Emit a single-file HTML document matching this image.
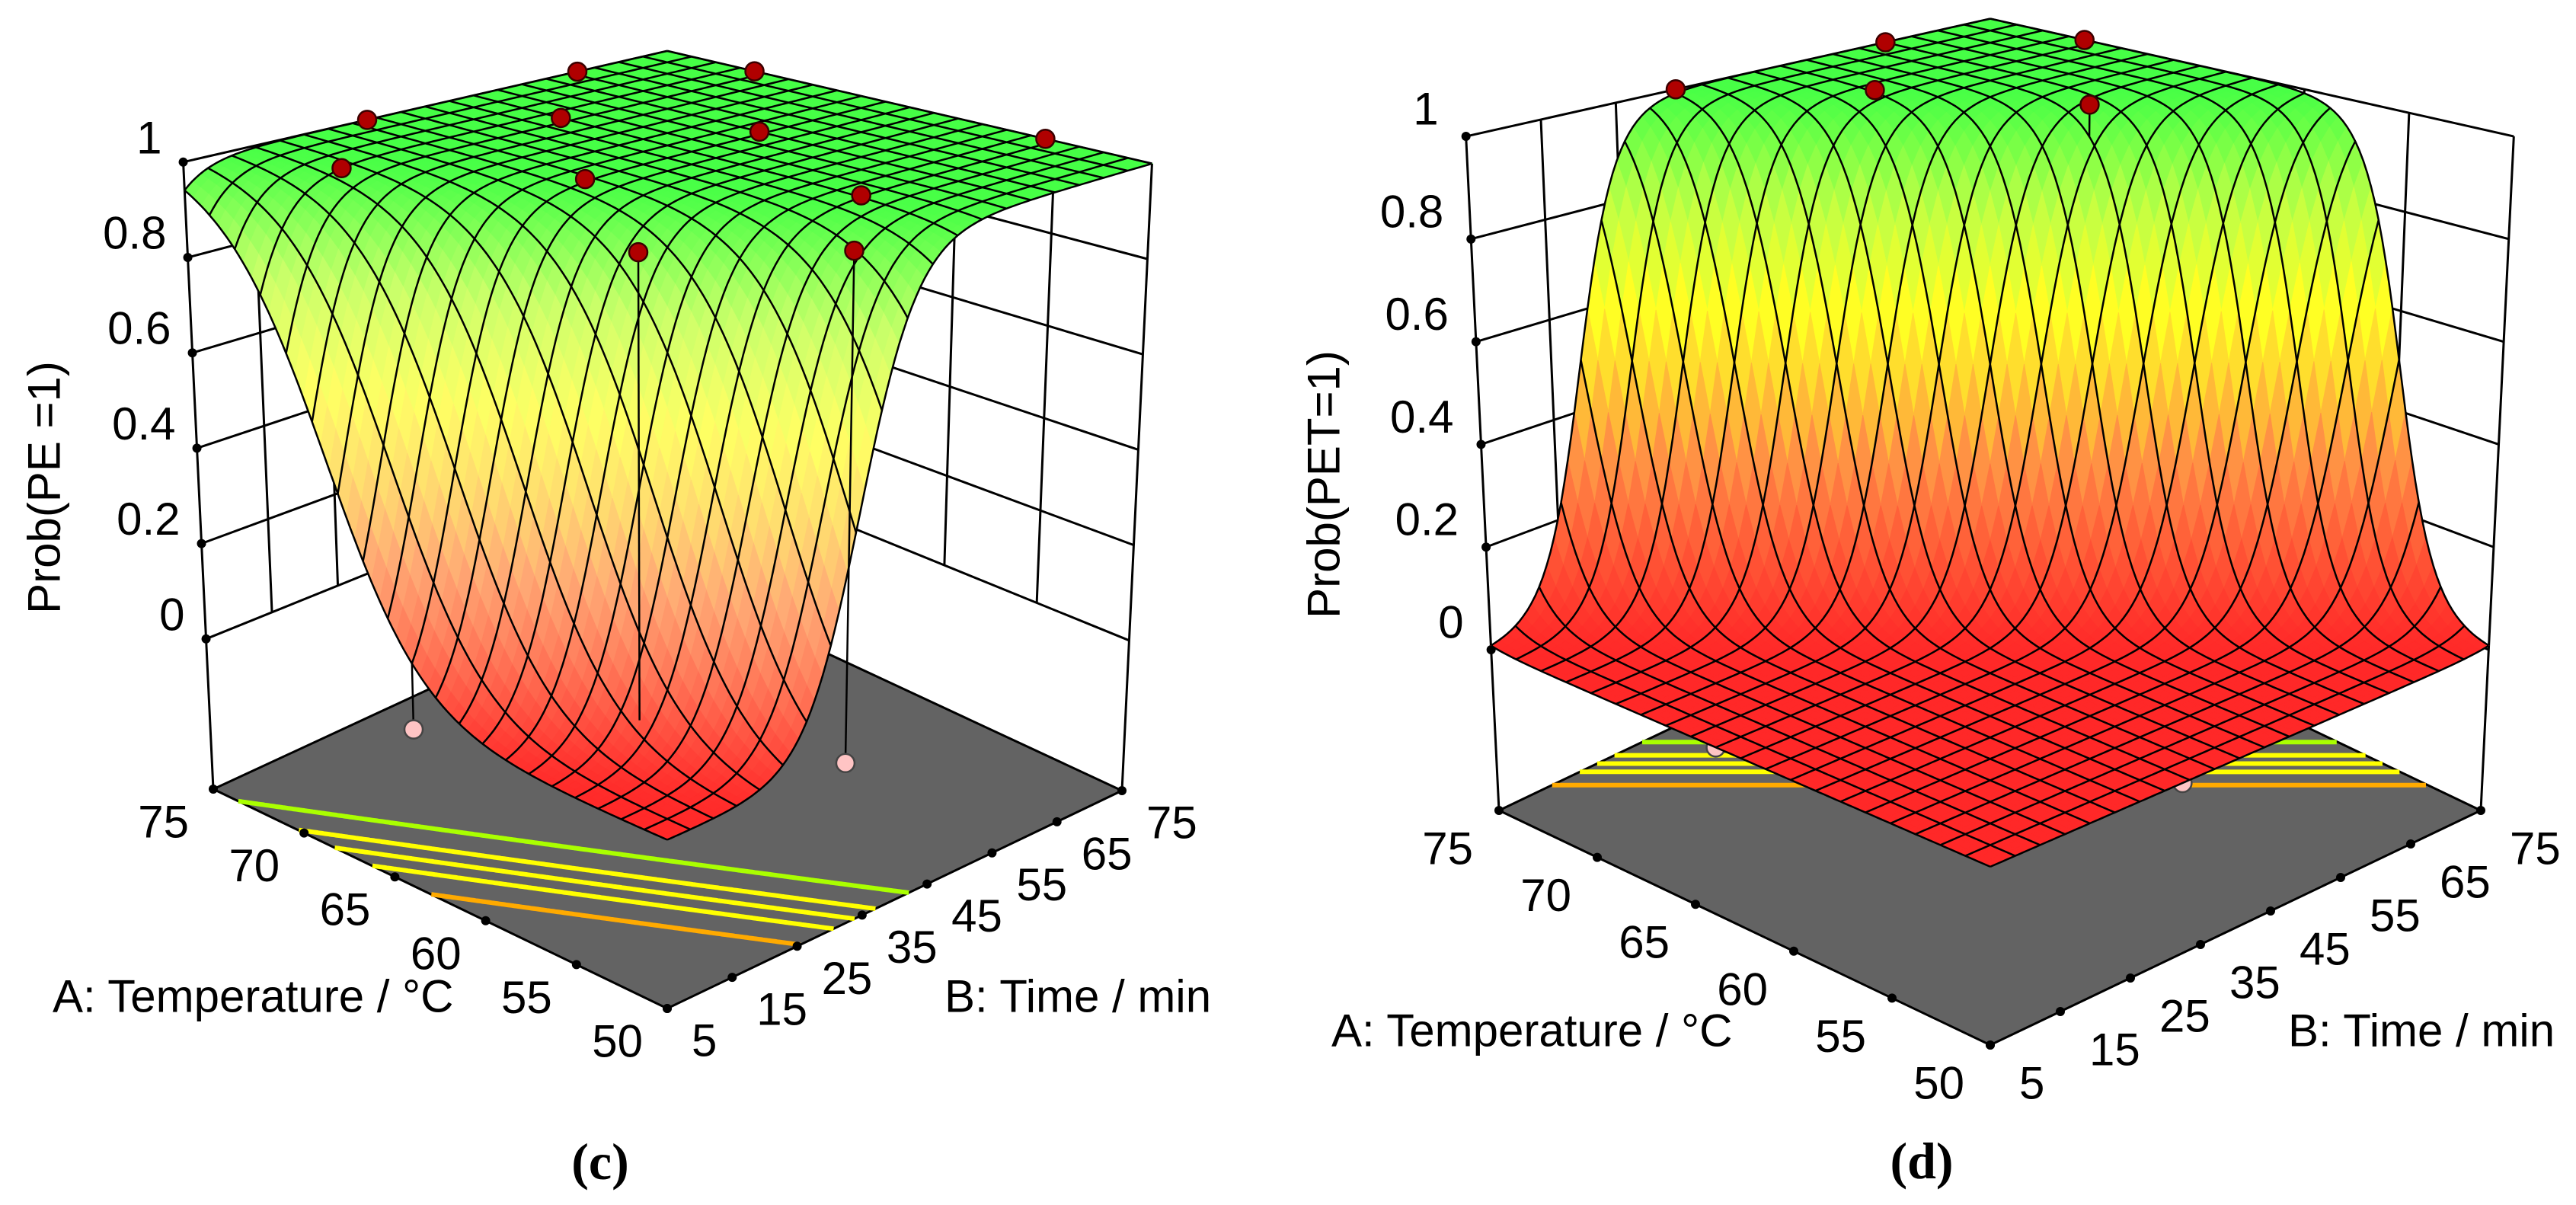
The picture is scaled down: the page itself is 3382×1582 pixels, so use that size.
<!DOCTYPE html>
<html><head><meta charset="utf-8"><title>Probability response surfaces</title>
<style>
html,body{margin:0;padding:0;background:#fff;}
svg{display:block;}
text{font-family:"Liberation Sans","DejaVu Sans",sans-serif;fill:#000;}
.cap{font-family:"Liberation Serif",serif;font-weight:bold;}
</style></head>
<body>
<svg id="fig" xmlns="http://www.w3.org/2000/svg" width="3382" height="1582" viewBox="0 0 3382 1582"></svg>
<script>
// ---- data ----
const ticksA = [50, 55, 60, 65, 70, 75];
const ticksB = [5, 15, 25, 35, 45, 55, 65, 75];
const ticksZ = [0, 0.2, 0.4, 0.6, 0.8, 1];
const coefPE = [-29.6, 0.414, 0.263];     // logit = c0 + c1*T + c2*t
const coefPET = [-78.51, 0.96, 0.3429];
const contourLevels = [0.1, 0.3, 0.5, 0.7, 0.9];
const contourColors = ['#ffaa00', '#ffff00', '#ffff00', '#ffff00', '#aaff00'];
const ptsTempC = [75, 70.5, 75, 70.5, 64, 55.5, 70.75, 63.75, 55, 55.5, 50, 63.75, 50];
const ptsTimeC = [62, 75, 31.6, 47, 57.5, 75, 16, 31.6, 47, 16.2, 32, 5, 32];
const ptsObsC  = [1, 1, 1, 1, 1, 1, 1, 1, 1, 1, 1, 0, 0];
const ptsTempD = [75, 75, 70.5, 70.5, 64, 63.75, 50];
const ptsTimeD = [33, 61, 75, 47, 57.5, 5, 32];
const ptsObsD  = [1, 1, 1, 1, 1, 0, 0];

const NS = 'http://www.w3.org/2000/svg';
const svg = document.getElementById('fig');
function el(tag, parent) { const e = document.createElementNS(NS, tag); parent.appendChild(e); return e; }

function makePanel(cfg) {
  const g = el('g', svg);
  
  
  const C = cfg.corners; // F, L, R, B
  function P(a, b, z) {
    const w = [(1 - a) * (1 - b), a * (1 - b), (1 - a) * b, a * b];
    let x = 0, y = 0;
    for (let i = 0; i < 4; i++) {
      x += w[i] * (C[i][0] + C[i][2] * (cfg.gap + z));
      y += w[i] * (C[i][1] + C[i][3] * (cfg.gap + z));
    }
    return [x, y];
  }
  const aOf = T => (T - 50) / 25;
  const bOf = t => (t - 5) / 70;
  const coef = cfg.coef;
  const pred = (T, t) => 1 / (1 + Math.exp(-(coef[0] + coef[1] * T + coef[2] * t)));
  const predAB = (a, b) => pred(50 + 25 * a, 5 + 70 * b);
  const pstr = arr => arr.map(p => p[0].toFixed(1) + ',' + p[1].toFixed(1)).join(' ');

  const walls = el('g', g);
  
  
  function line(parent, p, q, w, name) {
    const l = el('line', parent);
    l.setAttribute('x1', p[0]); l.setAttribute('y1', p[1]);
    l.setAttribute('x2', q[0]); l.setAttribute('y2', q[1]);
    l.setAttribute('stroke', '#000'); l.setAttribute('stroke-width', w);
    
    
    return l;
  }
  ticksZ.forEach(z => {
    line(walls, P(1, 0, z), P(1, 1, z), 3, 'wall-gridline-z');
    line(walls, P(0, 1, z), P(1, 1, z), 3, 'wall-gridline-z');
  });
  ticksB.forEach(t => { const b = bOf(t); if (b > 0 && b < 1) line(walls, P(1, b, 0), P(1, b, 1), 3, 'wall-gridline-b'); });
  ticksA.forEach(T => { const a = aOf(T); if (a > 0 && a < 1) line(walls, P(a, 1, 0), P(a, 1, 1), 3, 'wall-gridline-a'); });
  line(walls, P(1, 1, -cfg.gap), P(1, 1, 1), 3, 'back-edge');
  line(walls, P(1, 0, -cfg.gap), P(1, 0, 1), 3, 'left-edge');
  line(walls, P(0, 1, -cfg.gap), P(0, 1, 1), 3, 'right-edge');

  const floor = el('polygon', g);
  floor.setAttribute('points', pstr([P(0, 0, -cfg.gap), P(1, 0, -cfg.gap), P(1, 1, -cfg.gap), P(0, 1, -cfg.gap)]));
  floor.setAttribute('fill', '#636363');
  floor.setAttribute('stroke', '#000'); floor.setAttribute('stroke-width', 3);
  
  

  contourLevels.forEach((p, k) => {
    const lg = Math.log(p / (1 - p));
    const pts = [];
    for (let s = 0; s <= 400; s++) {
      const a = s / 400, T = 50 + 25 * a;
      const t = (lg - coef[0] - coef[1] * T) / coef[2];
      const b = bOf(t);
      if (b >= 0 && b <= 1) pts.push(P(a, b, -cfg.gap));
    }
    if (pts.length > 1) {
      const pl = el('polyline', g);
      pl.setAttribute('points', pstr(pts));
      pl.setAttribute('fill', 'none');
      pl.setAttribute('stroke', contourColors[k]);
      pl.setAttribute('stroke-width', 6);
      
      
    }
  });

  const FS = 60;
  ticksA.forEach(T => {
    const q = P(aOf(T), 0, -cfg.gap);
    const c = el('circle', g);
    c.setAttribute('cx', q[0]); c.setAttribute('cy', q[1]); c.setAttribute('r', 6);
    
    
    const tx = el('text', g);
    tx.setAttribute('x', q[0] + cfg.aOff[0]); tx.setAttribute('y', q[1] + cfg.aOff[1]);
    tx.setAttribute('text-anchor', 'end'); tx.setAttribute('dominant-baseline', 'central');
    tx.setAttribute('font-size', FS);
    tx.textContent = T;
    
    
  });
  ticksB.forEach(t => {
    const q = P(0, bOf(t), -cfg.gap);
    const c = el('circle', g);
    c.setAttribute('cx', q[0]); c.setAttribute('cy', q[1]); c.setAttribute('r', 6);
    
    
    const tx = el('text', g);
    tx.setAttribute('x', q[0] + cfg.bOff[0]); tx.setAttribute('y', q[1] + cfg.bOff[1]);
    tx.setAttribute('text-anchor', 'start'); tx.setAttribute('dominant-baseline', 'central');
    tx.setAttribute('font-size', FS);
    tx.textContent = t;
    
    
  });
  ticksZ.forEach(z => {
    const q = P(1, 0, z);
    const c = el('circle', g);
    c.setAttribute('cx', q[0]); c.setAttribute('cy', q[1]); c.setAttribute('r', 6);
    
    
    const tx = el('text', g);
    tx.setAttribute('x', q[0] + cfg.zOff[0]); tx.setAttribute('y', q[1] + cfg.zOff[1]);
    tx.setAttribute('text-anchor', 'end'); tx.setAttribute('dominant-baseline', 'central');
    tx.setAttribute('font-size', FS);
    tx.textContent = String(z);
    
    
  });

  function drawPoint(i, T, t, obs) {
    const a = aOf(T), b = bOf(t), pz = pred(T, t);
    const top = P(a, b, obs), pp = P(a, b, pz);
    line(g, top, pp, 2.5, 'residual-line');
    const c = el('circle', g);
    c.setAttribute('cx', top[0]); c.setAttribute('cy', top[1]); c.setAttribute('r', 12);
    c.setAttribute('fill', obs >= 0.5 ? '#b00000' : '#ffc4c4');
    c.setAttribute('stroke', obs >= 0.5 ? '#3a0000' : '#444');
    c.setAttribute('stroke-width', 2.5);
    
    
  }
  const T_ = cfg.ptsT, t_ = cfg.ptsTime, o_ = cfg.ptsObs;
  for (let i = 0; i < T_.length; i++) if (o_[i] < pred(T_[i], t_[i])) drawPoint(i, T_[i], t_[i], o_[i]);

  const surf = el('g', g);
  
  
  const stops = [[0, 255, 40, 40], [0.3, 255, 140, 70], [0.45, 255, 205, 50], [0.6, 255, 255, 36], [0.8, 190, 255, 70], [1, 70, 255, 70]];
  function color(z) {
    z = Math.max(0, Math.min(1, z));
    let k = 0; while (k < stops.length - 2 && z > stops[k + 1][0]) k++;
    const s0 = stops[k], s1 = stops[k + 1], f = (z - s0[0]) / (s1[0] - s0[0]);
    let c = [1, 2, 3].map(j => s0[j] + (s1[j] - s0[j]) * f);
    const m = cfg.whiten * 4 * z * (1 - z);
    c = c.map(v => Math.round(v + (255 - v) * m));
    return 'rgb(' + c.join(',') + ')';
  }
  const N = 60;
  for (let i = N - 1; i >= 0; i--) for (let j = N - 1; j >= 0; j--) {
    const a0 = i / N, a1 = (i + 1) / N, b0 = j / N, b1 = (j + 1) / N;
    const zs = [predAB(a0, b0), predAB(a1, b0), predAB(a1, b1), predAB(a0, b1)];
    const poly = el('polygon', surf);
    poly.setAttribute('points', pstr([P(a0, b0, zs[0]), P(a1, b0, zs[1]), P(a1, b1, zs[2]), P(a0, b1, zs[3])]));
    const col = color((zs[0] + zs[1] + zs[2] + zs[3]) / 4);
    poly.setAttribute('fill', col); poly.setAttribute('stroke', col); poly.setAttribute('stroke-width', 1);
    
    
  }
  for (let k = 0; k <= 20; k++) {
    const u = k / 20, p1 = [], p2 = [];
    for (let s = 0; s <= 120; s++) { const v = s / 120; p1.push(P(u, v, predAB(u, v))); p2.push(P(v, u, predAB(v, u))); }
    [p1, p2].forEach(pp => {
      const pl = el('polyline', surf);
      pl.setAttribute('points', pstr(pp));
      pl.setAttribute('fill', 'none'); pl.setAttribute('stroke', '#000'); pl.setAttribute('stroke-width', 2.5);
      
      
    });
  }
  for (let i = 0; i < T_.length; i++) if (!(o_[i] < pred(T_[i], t_[i]))) drawPoint(i, T_[i], t_[i], o_[i]);

  const zt = el('text', g);
  zt.setAttribute('transform', 'translate(' + cfg.zTitle[0] + ',' + cfg.zTitle[1] + ') rotate(-90)');
  zt.setAttribute('text-anchor', 'middle'); zt.setAttribute('dominant-baseline', 'central');
  zt.setAttribute('font-size', FS); zt.setAttribute('xml:space', 'preserve');
  zt.textContent = cfg.zTitleText;
  
  
  const at = el('text', g);
  at.setAttribute('x', cfg.aTitle[0]); at.setAttribute('y', cfg.aTitle[1]);
  at.setAttribute('dominant-baseline', 'central'); at.setAttribute('font-size', FS);
  at.textContent = 'A: Temperature / °C';
  
  
  const bt = el('text', g);
  bt.setAttribute('x', cfg.bTitle[0]); bt.setAttribute('y', cfg.bTitle[1]);
  bt.setAttribute('dominant-baseline', 'central'); bt.setAttribute('font-size', FS);
  bt.textContent = 'B: Time / min';
  
  
  const cap = el('text', g);
  cap.setAttribute('x', cfg.cap[0]); cap.setAttribute('y', cfg.cap[1]);
  cap.setAttribute('text-anchor', 'middle'); cap.setAttribute('dominant-baseline', 'central');
  cap.setAttribute('font-size', 68); cap.setAttribute('class', 'cap');
  cap.textContent = cfg.capText;
  
  
}

makePanel({
  name: 'panel-c-pe',
  corners: [[876, 1324, 0, -702], [280, 1036, -30, -626], [1473, 1038, 30, -626], [876, 760, 0, -527]],
  gap: 0.315, coef: coefPE, whiten: 0.3,
  ptsT: ptsTempC, ptsTime: ptsTimeC, ptsObs: ptsObsC,
  aOff: [-32, 43], bOff: [32, 42], zOff: [-28, -32],
  zTitle: [58, 640], zTitleText: 'Prob(PE   =1)',
  aTitle: [69, 1308], bTitle: [1240, 1308],
  cap: [788, 1525], capText: '(c)'
});
makePanel({
  name: 'panel-d-pet',
  corners: [[2613, 1372, 0, -748], [1968, 1064, -33, -674], [3257, 1064, 33, -674], [2613, 756, 0, -557]],
  gap: 0.313, coef: coefPET, whiten: 0.0,
  ptsT: ptsTempD, ptsTime: ptsTimeD, ptsObs: ptsObsD,
  aOff: [-34, 50], bOff: [38, 50], zOff: [-36, -36],
  zTitle: [1738, 636], zTitleText: 'Prob(PET=1)',
  aTitle: [1748, 1353], bTitle: [3004, 1353],
  cap: [2523, 1524], capText: '(d)'
});
</script>
</body></html>
